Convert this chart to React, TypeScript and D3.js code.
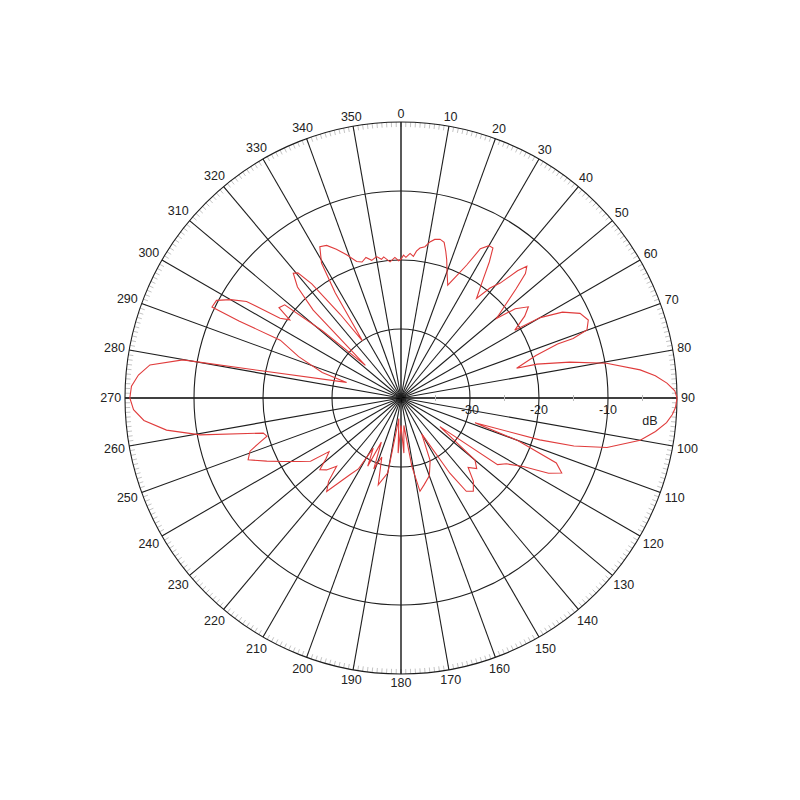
import React from "react";
import * as d3 from "d3";

// antenna pattern: [azimuth deg, level dB]
const patternAngles = [
  0, 1, 2, 3.6, 5, 6, 7.2, 9, 10.5, 12, 13.8, 15.5, 17, 18.3, 20, 22.5,
  24.5, 26.3, 28, 30, 31.5, 33, 35, 37.2,
  39, 40.8, 42.5, 43.7, 45, 46.5, 48.5, 50.2,
  52, 54.4, 56.5, 59.2,
  60, 62, 64.7, 67.4, 69.9, 70.9, 71, 72.5, 75.6,
  76, 78, 80.4, 83.3, 85, 86.8, 88.5, 90, 92, 93.5, 95.3, 97.5, 100, 103.5, 105.5, 106.8, 108.5,
  110, 112.7, 115, 117, 119.3, 122, 124.6, 126.3,
  130, 133, 136, 139, 142.2, 145, 147, 150, 155, 160, 165, 168.5, 171, 174, 177,
  180, 183, 186, 190, 194.7, 198, 201, 204, 206, 209, 211, 213.6, 216, 218.5, 221, 223.3,
  226, 228.5, 231, 233.3, 235, 237.9, 241.7, 244.8, 248, 250.6, 252.5, 254.1, 255.7,
  259.6, 262.2, 265, 267.5, 270, 272.5, 275, 277.5, 279.9, 286,
  288, 292, 295.6, 295.4, 295.7, 297.9, 300, 302, 303.4, 305.1, 306.5, 308.7, 310.5, 312.5,
  315, 317, 319.2, 320.5, 322, 324, 326, 328, 329.5, 331.8, 334, 336.5, 339.2, 342, 344, 346,
  348, 350.2, 352, 353, 355.4, 357.5, 359,
];
const patternDb = [
  -19.9, -19.3, -19.6, -19.0, -19.4, -18.6, -18.1, -17.8, -17.0, -16.5, -16.3, -16.6, -17.8, -18.9, -20.5, -22.3,
  -20.5, -18.5, -15.5, -14.5, -14.5, -16.5, -19.5, -21.9,
  -19.5, -18, -15, -13.6, -14.5, -17, -20, -22,
  -19, -17.3, -18.5, -20.8,
  -16.7, -13.5, -11.3, -10.6, -11.3, -13.6, -16, -19.5, -22.7,
  -19.7, -15, -9.8, -5.1, -3, -1.4, -0.3, 0, -0.2, -0.6, -1.35, -2.8, -4.8, -9.3, -14, -19, -28.7,
  -22, -15.6, -14.3, -16, -19.7, -22, -23, -33,
  -26, -25, -26, -24, -22.9, -23.5, -27, -34, -30, -28, -27, -26.2, -30, -36, -32,
  -36, -32, -37, -29, -27, -31, -29, -33, -29, -31.7, -28, -26.7, -25, -22.7, -24, -26.4,
  -25, -24.3, -26, -27, -24, -22.7, -20.6, -18.5, -16.1, -16.8, -18.5, -19.8, -19.4,
  -10.4, -5.7, -2.6, -1.2, -0.7, -0.9, -1.8, -3.3, -7.9, -31.8,
  -28, -24, -20.6, -14, -9.6, -9.75, -11.5, -13.6, -19, -20.3, -18, -18.4, -25, -33,
  -22, -18, -16.1, -16.5, -19, -25, -30, -22, -17.3, -15.1, -15.4, -16.5, -17.8, -19.2, -19.5, -19,
  -19.6, -19.2, -19.7, -19.4, -20.2, -19.6, -20.1,
];

const ringValues = [-30, -20, -10, 0];
const ringLabels = ["-30", "-20", "-10"];
const minorRadialTicks = [-35, -25, -15, -5];
const spokeAngles = d3.range(0, 360, 10);
const degreeTicks = d3.range(0, 360, 1);

const W = 800;
const H = 800;
const CX = 401;
const CY = 398;
const R = 276;

const App = () => {
  const r = d3.scaleLinear().domain([-40, 0]).range([0, R]).clamp(true);
  const rad = (deg: number) => (deg * Math.PI) / 180;
  const px = (deg: number, rr: number) => rr * Math.sin(rad(deg));
  const py = (deg: number, rr: number) => -rr * Math.cos(rad(deg));

  const points = patternAngles.map((a, i) => [a, patternDb[i]] as [number, number]);
  const line = d3
    .lineRadial<[number, number]>()
    .angle((d) => rad(d[0]))
    .radius((d) => r(d[1]))
    .curve(d3.curveLinearClosed);

  const font = "Arial, 'Liberation Sans', sans-serif";

  return (
    <svg
      width={W}
      height={H}
      style={{ position: "absolute", left: 0, top: 0, background: "#fff" }}
    >
      <g transform={`translate(${CX},${CY})`}>
        {/* 1 degree ticks inside the outer ring */}
        {degreeTicks.map((a) => (
          <line
            key={"dt" + a}
            x1={px(a, R - 5)}
            y1={py(a, R - 5)}
            x2={px(a, R)}
            y2={py(a, R)}
            stroke="#c4c4c4"
            strokeWidth={1}
          />
        ))}
        {/* spokes */}
        {spokeAngles.map((a) => (
          <line
            key={"sp" + a}
            x1={0}
            y1={0}
            x2={px(a, R)}
            y2={py(a, R)}
            stroke={a % 90 === 0 ? "#000" : "#1e1e1e"}
            strokeWidth={a % 90 === 0 ? 1.3 : 1.1}
          />
        ))}
        {/* rings */}
        {ringValues.map((v) => (
          <circle
            key={"rg" + v}
            r={r(v)}
            fill="none"
            stroke="#1e1e1e"
            strokeWidth={1.1}
          />
        ))}
        {/* minor ticks on the radial axis */}
        {minorRadialTicks.map((v) => (
          <line
            key={"mt" + v}
            x1={r(v)}
            x2={r(v)}
            y1={-3}
            y2={3}
            stroke="#bbb"
            strokeWidth={1}
          />
        ))}
        {/* pattern */}
        <path d={line(points) || ""} fill="none" stroke="#e03c3c" strokeWidth={1.1} />
        {/* radial labels */}
        {ringLabels.map((t, i) => (
          <text
            key={"rl" + t}
            x={r(ringValues[i])}
            y={12}
            dy="0.35em"
            textAnchor="middle"
            fontFamily={font}
            fontSize={12.5}
            fill="#222"
          >
            {t}
          </text>
        ))}
        <text x={249} y={23} dy="0.35em" textAnchor="middle" fontFamily={font} fontSize={12.5} fill="#222">
          dB
        </text>
        {/* angle labels */}
        {spokeAngles.map((a) => {
          const label = String(a);
          const halfW = label.length * 3.45;
          const s = Math.sin(rad(a));
          const c = Math.cos(rad(a));
          const off = R + 4 + halfW * Math.abs(s) + 4.5 * Math.abs(c);
          return (
            <text
              key={"al" + a}
              x={off * s}
              y={-off * c}
              dy="0.35em"
              textAnchor="middle"
              fontFamily={font}
              fontSize={12.5}
              fill="#222"
            >
              {label}
            </text>
          );
        })}
      </g>
    </svg>
  );
};

export default App;
